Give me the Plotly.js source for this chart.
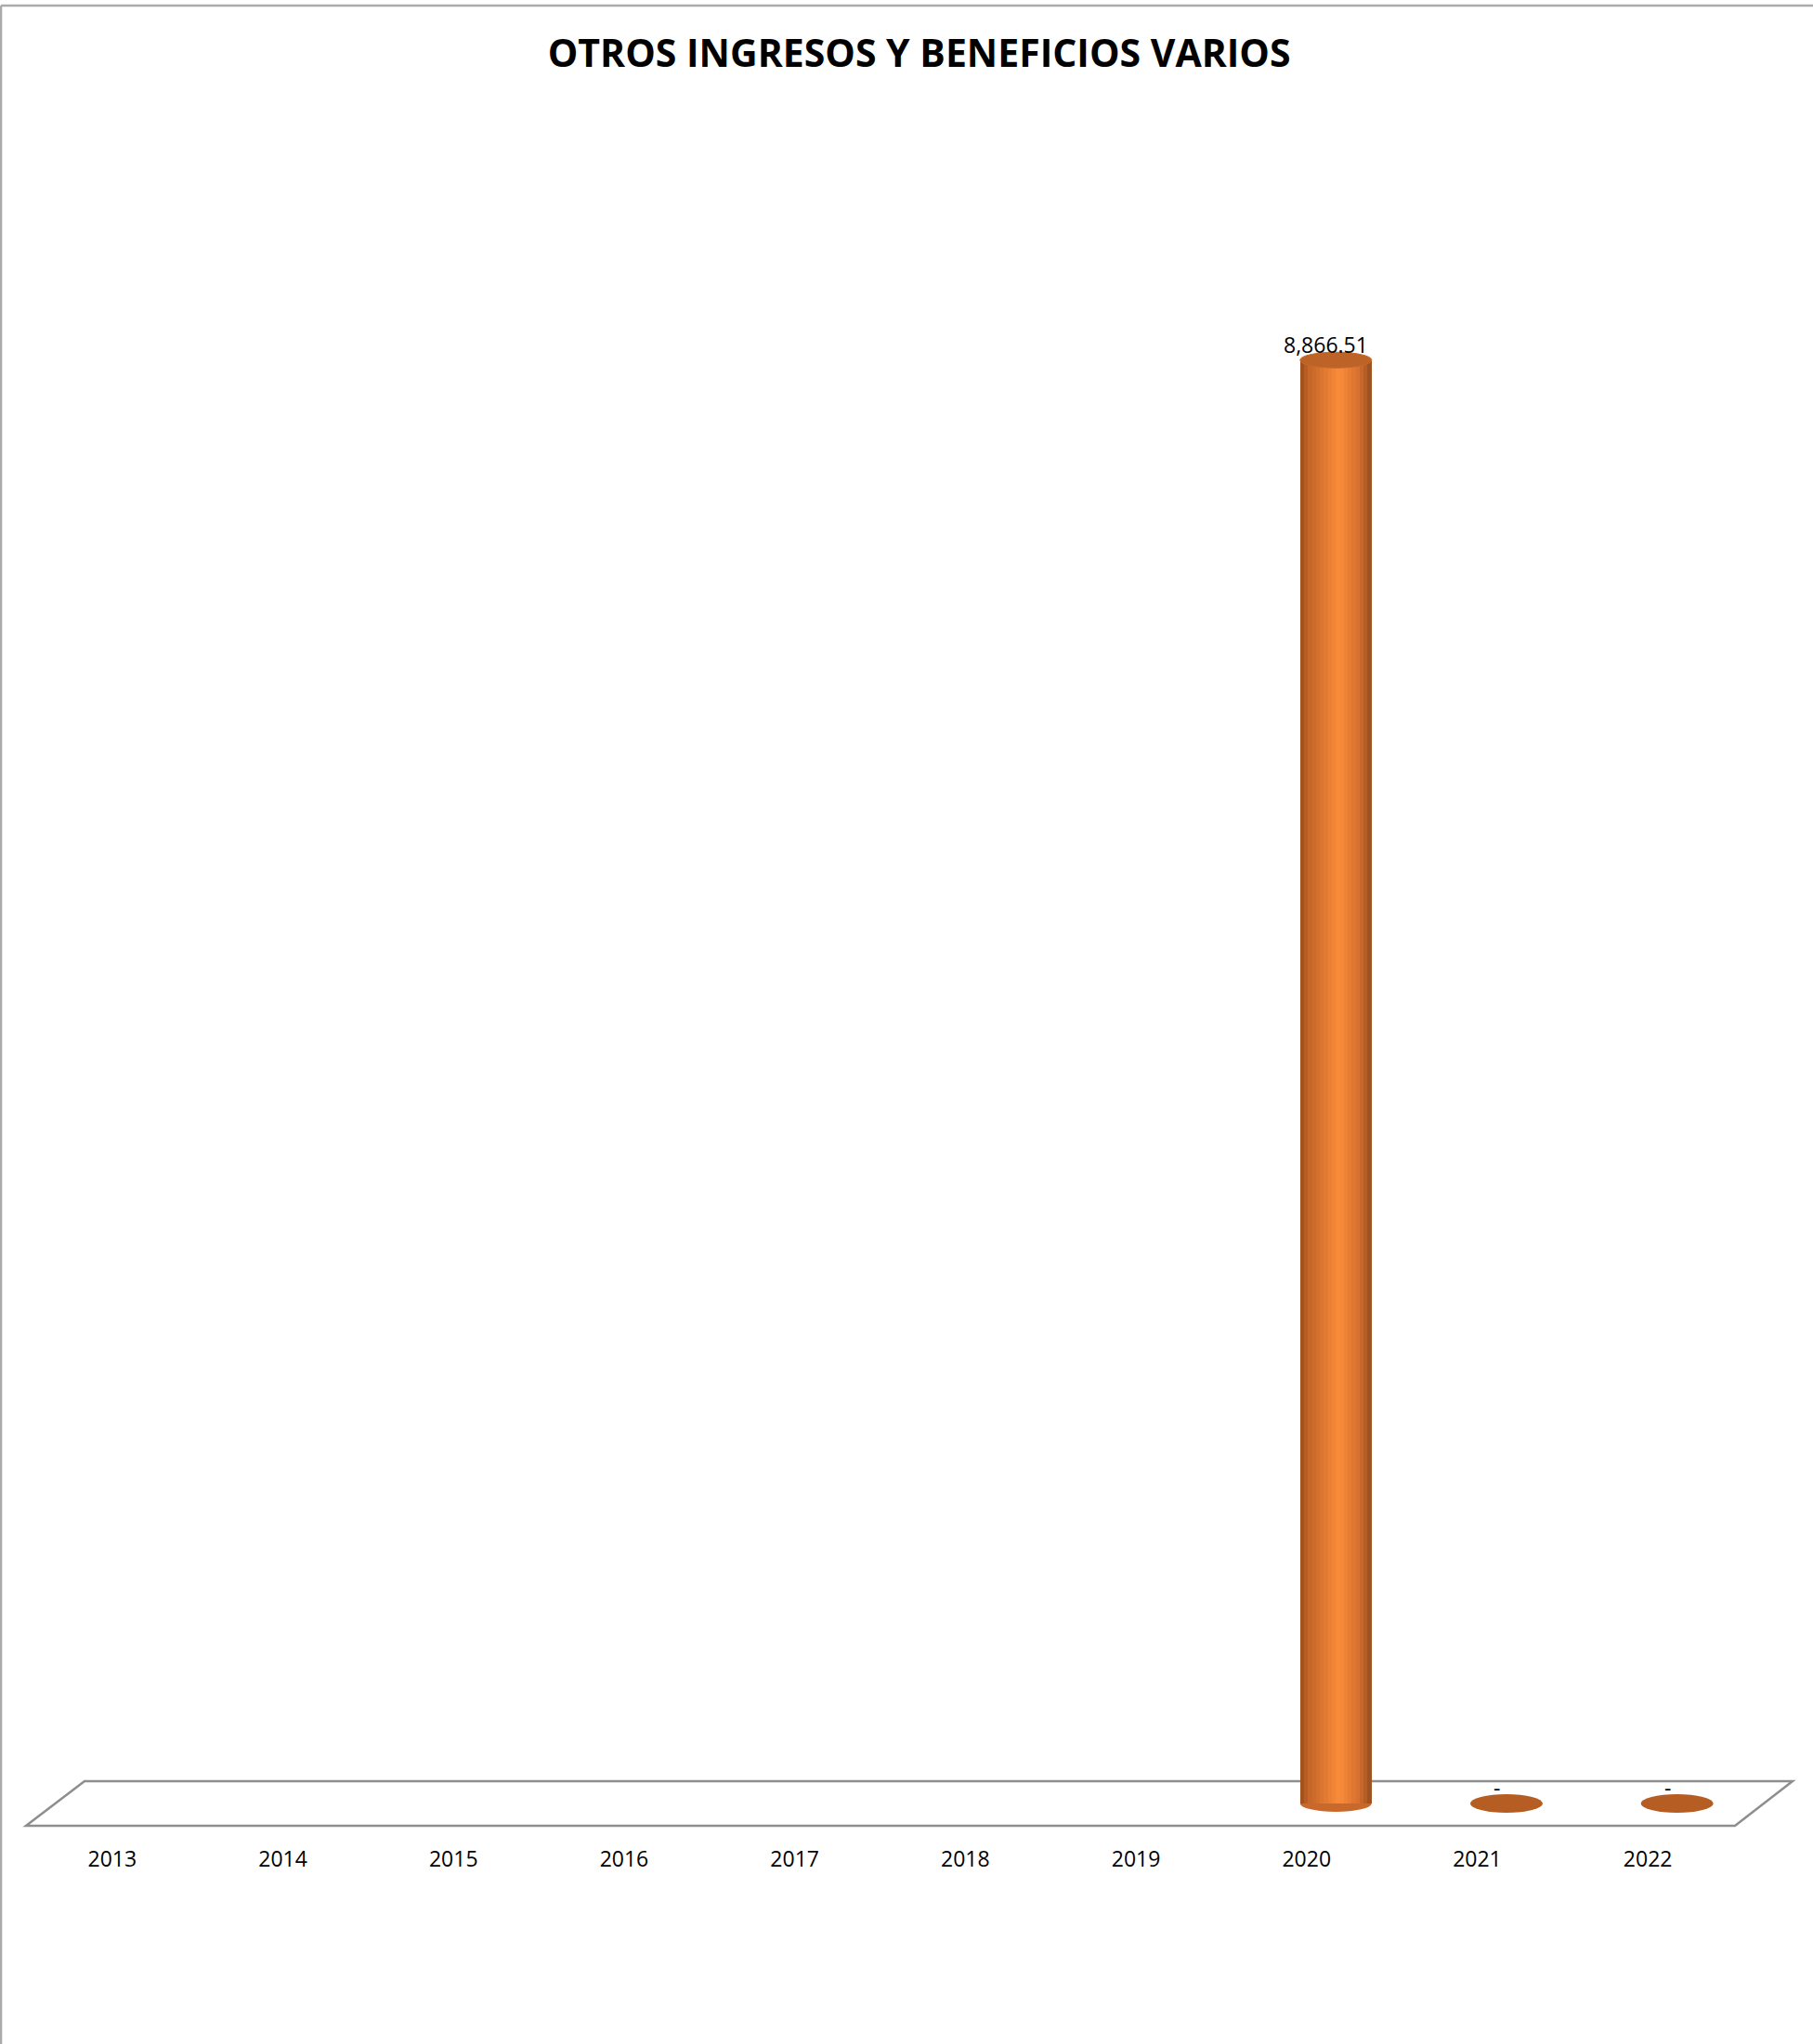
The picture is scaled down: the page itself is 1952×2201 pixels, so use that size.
<!DOCTYPE html>
<html>
<head>
<meta charset="utf-8">
<script src="https://cdn.plot.ly/plotly-3.0.1.min.js"></script>
<style>html,body{margin:0;padding:0;background:#fff;}#chart{width:1952px;height:2201px;}</style>
</head>
<body>
<div id="chart"></div>
<script>
// ---- data ----
const years = ['2013','2014','2015','2016','2017','2018','2019','2020','2021','2022'];
const values = [null, null, null, null, null, null, null, 8866.51, 0, 0];
const chartTitle = 'OTROS INGRESOS Y BENEFICIOS VARIOS';

// ---- style ----
const BAR_W = 0.419;       // bar width in category units
const BAR_SHIFT = 0.1715;  // 3D perspective shift of bar centre (category units)
const N_STRIPS = 18;
const stops = [
  [0.00, [150, 76, 28]],
  [0.12, [196, 100, 40]],
  [0.55, [250, 140, 58]],
  [0.82, [214, 112, 46]],
  [1.00, [150, 78, 29]]
];
function gradColor(t) {
  for (let k = 0; k < stops.length - 1; k++) {
    const a = stops[k], b = stops[k + 1];
    if (t >= a[0] && t <= b[0]) {
      const f = (t - a[0]) / (b[0] - a[0]);
      const c = a[1].map((v, j) => Math.round(v + (b[1][j] - v) * f));
      return 'rgb(' + c.join(',') + ')';
    }
  }
  return 'rgb(150,78,29)';
}

const baseOffset = BAR_SHIFT - BAR_W / 2;
const traces = [{
  type: 'bar', x: years, y: values,
  width: BAR_W, offset: baseOffset,
  marker: {color: '#A9561F', line: {width: 0}},
  hovertemplate: '%{x}: %{y:,.2f}<extra></extra>',
  showlegend: false
}];
const sw = BAR_W / N_STRIPS;
for (let s = 0; s < N_STRIPS; s++) {
  traces.push({
    type: 'bar', x: years, y: values,
    width: sw * 1.06, offset: baseOffset + s * sw,
    marker: {color: gradColor((s + 0.5) / N_STRIPS), line: {width: 0}},
    hoverinfo: 'skip', showlegend: false
  });
}

function fmt(v) {
  if (v === 0) return '-';
  return v.toLocaleString('en-US', {minimumFractionDigits: 2, maximumFractionDigits: 2});
}

const shapes = [];
const annotations = [];
values.forEach((v, i) => {
  if (v === null) return;
  const xa = i + baseOffset, xb = i + baseOffset + BAR_W;
  if (v !== 0) {
    // bottom rounded edge of the cylinder
    shapes.push({type: 'circle', layer: 'below', xref: 'x', yref: 'y',
      ysizemode: 'pixel', yanchor: 0,
      x0: xa, x1: xb, y0: -9, y1: 9,
      fillcolor: '#C8692B', line: {width: 0}});
    // top face of the cylinder
    shapes.push({type: 'circle', layer: 'above', xref: 'x', yref: 'y',
      ysizemode: 'pixel', yanchor: v,
      x0: xa, x1: xb, y0: -8.5, y1: 8.5,
      fillcolor: '#BD6328', line: {color: '#C56A2C', width: 1}});
  } else {
    shapes.push({type: 'circle', layer: 'above', xref: 'x', yref: 'y',
      ysizemode: 'pixel', yanchor: v,
      x0: xa - 0.003, x1: xb + 0.003, y0: -10, y1: 10,
      fillcolor: '#B55D22', line: {width: 0}});
  }
  // data label (x given as category serial number)
  annotations.push({x: i, y: v, xref: 'x', yref: 'y', text: fmt(v),
    showarrow: false, xshift: 21, yshift: 17, yanchor: 'middle',
    font: {family: 'Open Sans, sans-serif', size: 23, color: '#000'}});
});

// 3D floor (paper coordinates)
shapes.push({type: 'path', layer: 'below', xref: 'paper', yref: 'paper',
  path: 'M -0.00054 0.00782 L 0.03375 0.03462 L 1.03484 0.03462 L 1.00109 0.00782 Z',
  fillcolor: 'rgba(255,255,255,0)', line: {color: '#8E8E8E', width: 2.5}});
// outer chart border (top and left)
shapes.push({type: 'line', xref: 'paper', yref: 'paper', x0: -0.0152, x1: 1.2, y0: 1.1022, y1: 1.1022,
  line: {color: '#ABABAB', width: 2.5}});
shapes.push({type: 'line', xref: 'paper', yref: 'paper', x0: -0.0152, x1: -0.0152, y0: 1.1022, y1: -0.13,
  line: {color: '#ABABAB', width: 2.5}});

const layout = {
  width: 1952, height: 2201,
  margin: {l: 29, r: 86, t: 189, b: 221},
  paper_bgcolor: '#fff', plot_bgcolor: 'rgba(0,0,0,0)',
  barmode: 'overlay', bargap: 0,
  showlegend: false,
  font: {family: 'Open Sans, sans-serif', color: '#000'},
  title: {text: '<b>' + chartTitle + '</b>', xref: 'container', yref: 'container',
    x: 0.507, y: 0.9739, xanchor: 'center', yanchor: 'middle',
    font: {family: 'Open Sans, sans-serif', size: 41, color: '#000'}},
  xaxis: {type: 'category', categoryorder: 'array', categoryarray: years,
    range: [-0.5, years.length - 0.5], autorange: false,
    showgrid: false, zeroline: false, showline: false, ticks: '',
    ticklabelstandoff: 6,
    tickfont: {family: 'Open Sans, sans-serif', size: 23, color: '#000'}},
  yaxis: {range: [-216.8, 10000], autorange: false, visible: false, showgrid: false, zeroline: false},
  shapes: shapes,
  annotations: annotations
};

Plotly.newPlot('chart', traces, layout, {displayModeBar: false, responsive: false});
</script>
</body>
</html>
